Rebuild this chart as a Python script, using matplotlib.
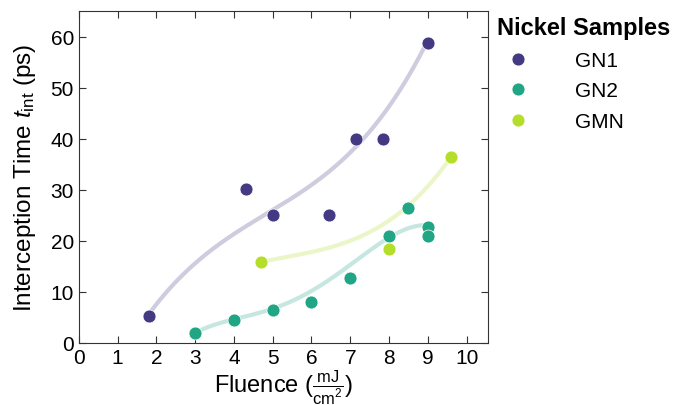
import numpy as np
import matplotlib.pyplot as plt

plt.rcParams['font.family'] = ['Liberation Sans', 'DejaVu Sans']
plt.rcParams['mathtext.fontset'] = 'custom'
plt.rcParams['mathtext.rm'] = 'Liberation Sans'
plt.rcParams['mathtext.it'] = 'Liberation Sans:italic'

# data
gn1_x = [1.8, 4.3, 5.0, 6.45, 7.15, 7.85, 9.0]
gn1_y = [5.3, 30.2, 25.1, 25.1, 39.9, 39.9, 58.8]
gn2_x = [3.0, 4.0, 5.0, 6.0, 7.0, 8.0, 8.5, 9.0, 9.0]
gn2_y = [2.0, 4.5, 6.5, 8.0, 12.8, 21.0, 26.5, 22.8, 21.0]
gmn_x = [4.7, 8.0, 9.6]
gmn_y = [15.9, 18.4, 36.4]

# trend curves (smoothed with a polynomial fit)
gn1_trend_x = [1.8, 3.0, 4.0, 5.0, 6.0, 7.0, 7.5, 8.0, 9.0]
gn1_trend_y = [5.3, 16.0, 21.9, 25.3, 30.4, 37.7, 40.9, 47.5, 58.8]
gn2_trend_x = [3.0, 4.0, 5.0, 6.0, 7.0, 8.0, 8.5, 9.0]
gn2_trend_y = [2.0, 4.5, 6.8, 10.3, 15.0, 20.8, 22.5, 23.0]
gmn_trend_x = [4.7, 6.0, 7.0, 8.0, 8.5, 9.0, 9.6]
gmn_trend_y = [15.9, 17.6, 20.3, 24.0, 26.5, 31.0, 36.4]

names = ['GN1', 'GN2', 'GMN']
colors = ['#443a83', '#21a685', '#b5de2b']

fig = plt.figure(figsize=(6.73, 4.06), dpi=100)
ax = fig.add_axes([0.117, 0.153, 0.608, 0.817])

series = [(gn1_x, gn1_y), (gn2_x, gn2_y), (gmn_x, gmn_y)]
trends = [(gn1_trend_x, gn1_trend_y), (gn2_trend_x, gn2_trend_y), (gmn_trend_x, gmn_trend_y)]
degs = [3, 4, 3]
for (x, y), (tx, ty), c, n, d in zip(series, trends, colors, names, degs):
    p = np.polyfit(tx, ty, d)
    xs = np.linspace(min(tx), max(tx), 200)
    ax.plot(xs, np.polyval(p, xs), color=c, alpha=0.26, lw=3, solid_capstyle='round')
    ax.plot(x, y, 'o', color=c, ms=9.3, mec='white', mew=0.5, label=n, zorder=3)

ax.set_xlim(0, 10.55)
ax.set_ylim(0, 65)
ax.set_xticks(range(0, 11))
ax.set_yticks(range(0, 61, 10))
ax.tick_params(direction='in', top=True, right=True, length=5, labelsize=15, colors='#333333',
               labelcolor='black')
for s in ax.spines.values():
    s.set_color('#333333')
ax.set_xlabel(r'Fluence ($\frac{\mathrm{mJ}}{\mathrm{cm^2}}$)', fontsize=17, labelpad=1)
ax.set_ylabel(r'Interception Time $t_{\mathrm{int}}$ (ps)', fontsize=17.5, labelpad=9)

leg = fig.legend(title='Nickel Samples', loc='upper left', bbox_to_anchor=(0.7385, 0.957),
                 frameon=False, fontsize=15, handletextpad=1.75, labelspacing=0.55,
                 borderpad=0, borderaxespad=0,
                 title_fontproperties={'weight': 'bold', 'size': 17})
leg._legend_box.align = 'left'

fig.savefig('out.png', dpi=100)
